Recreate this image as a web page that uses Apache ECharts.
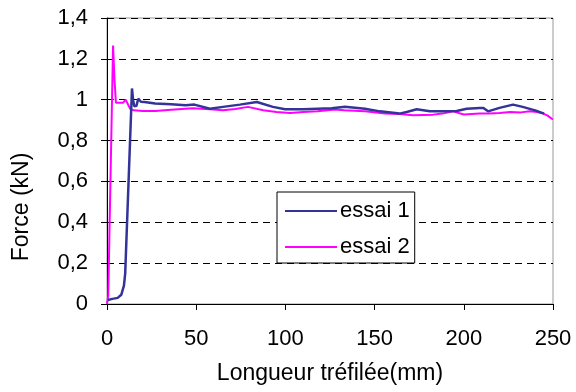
<!DOCTYPE html>
<html>
<head>
<meta charset="utf-8">
<script src="https://cdn.jsdelivr.net/npm/echarts@6/dist/echarts.min.js"></script>
<style>
  html, body { margin: 0; padding: 0; background: #fff; }
  #chart { width: 576px; height: 392px; }
</style>
</head>
<body>
<div id="chart"></div>
<script>
// valeurs : [longueur (mm), force (kN)]
var essai1 = [
  [0.5, 0.02], [3, 0.025], [6, 0.03], [8, 0.045], [9.5, 0.09], [10.2, 0.15],
  [14, 1.055], [14.6, 1.0], [15.3, 0.968], [16.5, 0.97], [17.5, 1.005], [19, 0.99],
  [21, 0.989], [27, 0.981], [36, 0.978], [44, 0.973], [49, 0.976], [57.7, 0.956],
  [65, 0.965], [74.5, 0.976], [84, 0.989], [93, 0.965], [99.8, 0.953], [110, 0.953],
  [118, 0.956], [126, 0.958], [133.4, 0.965], [144.6, 0.956], [153, 0.943], [164, 0.932],
  [168, 0.94], [173.6, 0.953], [181, 0.943], [190.4, 0.943], [196, 0.945], [201.6, 0.956],
  [209, 0.96], [211, 0.96], [213.6, 0.943], [220, 0.96], [227.6, 0.976], [233, 0.965],
  [240, 0.948], [245, 0.932]
];
var essai2 = [
  [0, 0], [0.7, 0.04], [3.4, 1.265], [4.2, 1.1], [5, 0.985], [7, 0.985], [9, 0.985],
  [10.5, 1.0], [11.5, 0.995], [13, 0.955], [15, 0.948], [20, 0.945], [27, 0.945],
  [36, 0.951], [48, 0.958], [57.7, 0.953], [65, 0.948], [72, 0.955], [79, 0.965],
  [87.6, 0.948], [95, 0.94], [102.6, 0.935], [110, 0.94], [118, 0.943], [127.8, 0.952],
  [133, 0.948], [144.6, 0.943], [155.8, 0.932], [164, 0.93], [171.6, 0.924], [182.8, 0.927],
  [188, 0.932], [194, 0.943], [200, 0.928], [209, 0.932], [214, 0.932], [220, 0.935],
  [226, 0.94], [232, 0.938], [237, 0.943], [241, 0.94], [244.6, 0.932], [247, 0.922],
  [249.3, 0.907], [250, 0.903]
];
var noms = ['essai 1', 'essai 2'];

var police = 'Liberation Sans, Arial, sans-serif';

var myChart = echarts.init(document.getElementById('chart'));

var option = {
  backgroundColor: '#fff',
  animation: false,
  textStyle: { fontFamily: police },
  grid: {
    left: 107, right: 23, top: 18, bottom: 88,
    show: true, borderColor: '#999', borderWidth: 1
  },
  legend: {
    data: noms,
    orient: 'vertical',
    left: 277, top: 192,
    backgroundColor: '#fff',
    borderColor: '#000', borderWidth: 1, borderRadius: 0,
    padding: [8, 5, 5, 8],
    itemGap: 14,
    itemWidth: 52, itemHeight: 2,
    icon: 'rect',
    textStyle: { fontSize: 22, color: '#000', fontFamily: police, padding: [0, 0, 0, -2] }
  },
  xAxis: {
    type: 'value',
    min: 0, max: 250, interval: 50,
    name: 'Longueur tréfilée(mm)',
    nameLocation: 'middle',
    nameGap: 58,
    nameTextStyle: { fontSize: 23, color: '#000', fontFamily: police },
    axisLine: { onZero: false, lineStyle: { color: '#000', width: 1 } },
    axisTick: { show: true, inside: false, length: 6, lineStyle: { color: '#000' } },
    axisLabel: { fontSize: 22, color: '#000', margin: 24, fontFamily: police },
    splitLine: { show: false }
  },
  yAxis: {
    type: 'value',
    min: 0, max: 1.4, interval: 0.2,
    axisLine: { show: true, onZero: false, lineStyle: { color: '#000', width: 1 } },
    axisTick: { show: true, inside: false, length: 6, lineStyle: { color: '#000' } },
    axisLabel: {
      fontSize: 22, color: '#000', margin: 19, fontFamily: police,
      formatter: function (v) { return String(+v.toFixed(1)).replace('.', ','); }
    },
    splitLine: { show: true, lineStyle: { color: '#000', width: 1, type: [7, 5] } }
  },
  graphic: [{
    type: 'text',
    x: 22, y: 207,
    rotation: Math.PI / 2,
    style: {
      text: 'Force (kN)',
      fontSize: 23, fontFamily: police, fill: '#000',
      align: 'center', verticalAlign: 'middle'
    }
  }],
  series: [
    {
      name: noms[0], type: 'line', data: essai1,
      showSymbol: false, symbol: 'none', z: 3,
      lineStyle: { color: '#333399', width: 2.5 },
      itemStyle: { color: '#333399' }
    },
    {
      name: noms[1], type: 'line', data: essai2,
      showSymbol: false, symbol: 'none', z: 2,
      lineStyle: { color: '#FF00FF', width: 2 },
      itemStyle: { color: '#FF00FF' }
    }
  ]
};

myChart.setOption(option);
</script>
</body>
</html>
